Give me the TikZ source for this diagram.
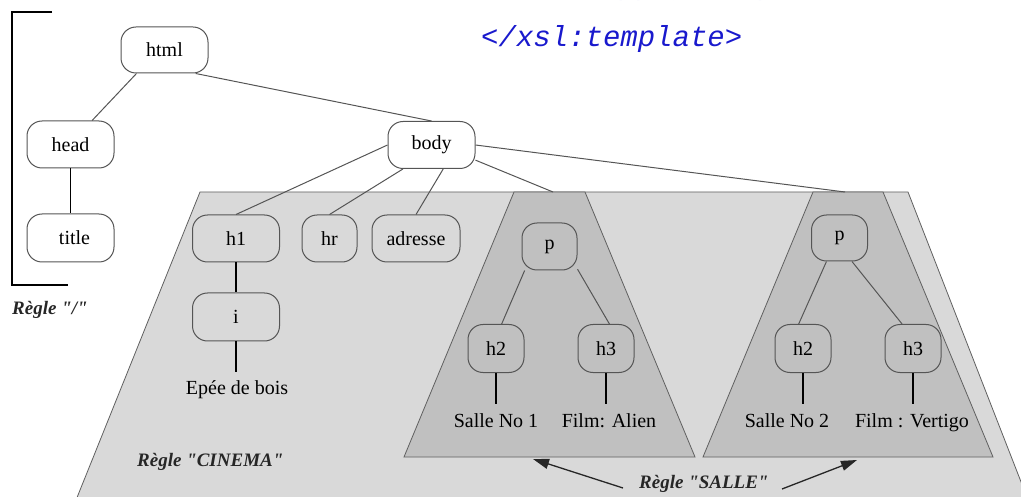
\documentclass[tikz,border=0pt]{standalone}
\usepackage{fontspec}
\setmainfont{Liberation Serif}
\newfontfamily\codefont{Liberation Mono}
\usetikzlibrary{arrows.meta}
\definecolor{bgA}{RGB}{217,217,217}
\definecolor{bgB}{RGB}{192,192,192}
\definecolor{edgecol}{RGB}{85,85,85}
\definecolor{codeblue}{RGB}{25,25,205}
\newcommand{\qq}{\textquotedbl}
\begin{document}
\begin{tikzpicture}[x=1pt,y=-1pt,
  tnode/.style={draw=edgecol, line width=1pt, rounded corners=15pt, minimum width=87pt, minimum height=47pt, inner sep=0pt, font=\fontsize{20}{24}\selectfont},
  snode/.style={tnode, minimum width=56pt, minimum height=48pt},
  tedge/.style={draw=edgecol, line width=1pt},
  ledge/.style={draw=black, line width=1.8pt},
  leaf/.style={font=\fontsize{20}{24}\selectfont, text height=14pt, text depth=4pt, inner xsep=0pt, inner ysep=9pt, anchor=base},
  rulelabel/.style={font=\fontsize{19}{23}\selectfont\bfseries\itshape, text=black!85, inner sep=0pt, anchor=base west},
  zone/.style={draw=gray!75!black, line width=0.8pt},
  arr/.style={draw=black!85, line width=1.3pt, -{Triangle[length=16pt,width=10pt]}},
  code/.style={font=\codefont\itshape\fontsize{29}{34}\selectfont, text=codeblue, inner sep=0pt, anchor=base west}
]
\clip (0,0) rectangle (1021,497);

% code text
\node[code] (code1) at (515,-5) {<xsl:apply-templates/>};
\node[code] (code2) at (481,47) {</xsl:template>};

% zones
\fill[bgA] (200,192) -- (908,192) -- (1032,510) -- (72,510) -- cycle;
\draw[zone] (72,510) -- (200,192) -- (908,192) -- (1032,510);
\filldraw[fill=bgB, zone] (514,192) -- (585,192) -- (695,457) -- (404,457) -- cycle;
\filldraw[fill=bgB, zone] (813,192) -- (883,192) -- (993,457) -- (703,457) -- cycle;
\coordinate (topL) at (553,192);
\coordinate (topR) at (845,192);

% bracket for rule "/"
\draw[line width=2pt] (52,12) -- (12,12) -- (12,285) -- (68,285);

% nodes
\node[tnode, minimum height=46pt] (html) at (164.5,50) {html};
\node[tnode] (head) at (70.5,144.5) {head};
\node[tnode] (body) at (431.5,145) {body};
\node[tnode, minimum height=48pt] (title) at (70.5,238) {\hspace{8pt}title};
\node[tnode] (h1) at (236,238.5) {h1};
\node[tnode, minimum width=55pt] (hr) at (329.5,238.5) {hr};
\node[tnode, minimum width=88pt] (adresse) at (416,238.5) {adresse};
\node[tnode, minimum height=48pt] (i) at (236,317) {i};
\node[leaf] (epee) at (237,395) {Epée de bois};

\node[snode, minimum width=55pt, minimum height=47pt] (pA) at (549.5,246.5) {p};
\node[snode] (h2A) at (496,348.5) {h2};
\node[snode] (h3A) at (606,348.5) {h3};
\node[leaf] (sA) at (496,427) {Salle No 1};
\node[leaf] (fA) at (609,427) {Film: Alien};

\node[snode, minimum height=46pt] (pB) at (839.5,238) {p};
\node[snode] (h2B) at (803,348.5) {h2};
\node[snode] (h3B) at (913,348.5) {h3};
\node[leaf] (sB) at (787,427) {Salle No 2};
\node[leaf] (fB) at (912,427) {Film : Vertigo};

% edges
\draw[tedge] (html.220) -- (head.48);
\draw[tedge] (html.323) -- (body.north);
\draw[ledge] (head.south) -- (title.north);
\draw[tedge] (body.west) -- (h1.north);
\draw[tedge] (body.220) -- (hr.north);
\draw[tedge] (body.296) -- (adresse.north);
\draw[tedge] (body.341) -- (topL);
\draw[tedge] (body.east) -- (topR);
\draw[ledge] (h1.south) -- (i.north);
\draw[ledge] (i.south) -- (i.south |- epee.north);

\draw[tedge] (pA.224) -- (h2A.77);
\draw[tedge] (pA.321) -- (h3A.82);
\draw[ledge] (h2A.south) -- (h2A.south |- sA.north);
\draw[ledge] (h3A.south) -- (h3A.south |- fA.north);

\draw[tedge] (pB.241) -- (h2B.100);
\draw[tedge] (pB.298) -- (h3B.114);
\draw[ledge] (h2B.south) -- (h2B.south |- sB.north);
\draw[ledge] (h3B.south) -- (h3B.south |- fB.north);

% rule labels
\node[rulelabel] (rslash) at (12,315) {Règle \qq/\qq};
\node[rulelabel] (rcinema) at (137,466) {Règle \qq CINEMA\qq};
\node[rulelabel] (rsalle) at (639,488) {Règle \qq SALLE\qq};
\coordinate (sal1) at (623,488);
\coordinate (sal2) at (782,489);
\coordinate (tipA) at (533,459);
\coordinate (tipB) at (857,460);
\draw[arr] (sal1) -- (tipA);
\draw[arr] (sal2) -- (tipB);
\end{tikzpicture}
\end{document}
